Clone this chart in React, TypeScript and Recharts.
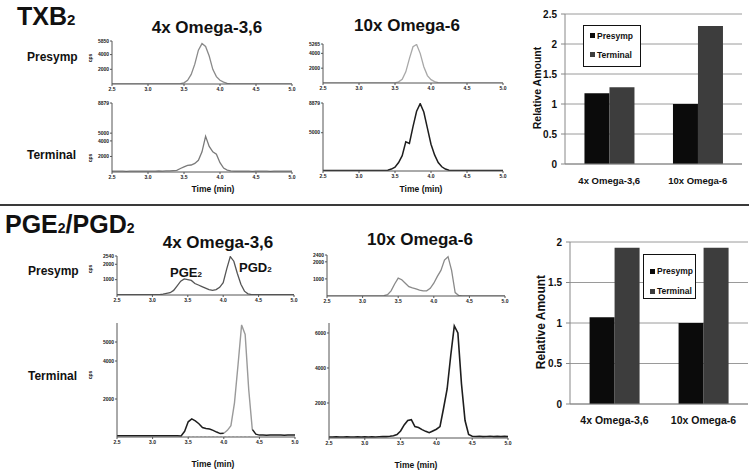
import React from "react";
import { LineChart, Line, XAxis, YAxis, BarChart, Bar, CartesianGrid, Legend } from "recharts";

// retention time grid (min)
const minutes = [
  2.5, 2.55, 2.6, 2.65, 2.7, 2.75, 2.8, 2.85, 2.9, 2.95,
  3.0, 3.05, 3.1, 3.15, 3.2, 3.25, 3.3, 3.35, 3.4, 3.45,
  3.5, 3.55, 3.6, 3.65, 3.7, 3.75, 3.8, 3.85, 3.9, 3.95,
  4.0, 4.05, 4.1, 4.15, 4.2, 4.25, 4.3, 4.35, 4.4, 4.45,
  4.5, 4.55, 4.6, 4.65, 4.7, 4.75, 4.8, 4.85, 4.9, 4.95,
  5.0,
];
const timeTicks = [2.5, 3.0, 3.5, 4.0, 4.5, 5.0];

// TXB2 traces (cps)
const txbOmega36Presymp = [
  0, 0, 0, 0, 0, 0, 0, 0, 0, 0,
  0, 0, 0, 0, 0, 0, 0, 0, 0, 50,
  150, 500, 1300, 2700, 4600, 5500, 5100, 3800, 2000, 1000,
  500, 250, 80, 0, 0, 0, 0, 0, 0, 0,
  0, 0, 0, 0, 0, 0, 0, 0, 0, 0,
  0,
];
const txbOmega36Terminal = [
  100, 100, 120, 100, 90, 110, 100, 120, 100, 110,
  100, 120, 100, 130, 110, 150, 150, 180, 200, 450,
  650, 850, 900, 1100, 1500, 2600, 4600, 3300, 2600, 2300,
  1200, 500, 250, 150, 120, 100, 110, 100, 100, 90,
  100, 110, 100, 100, 90, 100, 100, 110, 100, 100,
  100,
];
const txbOmega6Presymp = [
  0, 0, 0, 0, 0, 0, 0, 0, 0, 0,
  0, 0, 0, 0, 0, 0, 0, 0, 0, 0,
  30, 150, 500, 1500, 3300, 4900, 5200, 4000, 2200, 1000,
  450, 200, 60, 0, 0, 0, 0, 0, 0, 0,
  0, 0, 0, 0, 0, 0, 0, 0, 0, 0,
  0,
];
const txbOmega6Terminal = [
  60, 60, 70, 60, 60, 70, 60, 60, 70, 60,
  60, 70, 60, 70, 60, 70, 80, 80, 100, 250,
  500, 1100, 2000, 3800, 3600, 5800, 7800, 8800, 7700, 5600,
  3500, 2100, 1100, 550, 250, 100, 60, 60, 60, 60,
  60, 60, 60, 60, 60, 60, 60, 60, 60, 60,
  60,
];

// PGE2 / PGD2 traces (cps)
const pgOmega36Presymp = [
  20, 20, 20, 20, 20, 20, 20, 20, 20, 20,
  20, 20, 20, 50, 100, 150, 300, 600, 900, 1050,
  1000, 950, 750, 650, 550, 450, 350, 300, 350, 500,
  800, 1700, 2500, 2200, 1400, 700, 250, 80, 30, 20,
  20, 20, 20, 20, 20, 20, 20, 20, 20, 20,
  20,
];
const pgOmega36Terminal = [
  60, 60, 60, 70, 60, 60, 70, 60, 60, 70,
  60, 60, 70, 60, 60, 70, 60, 60, 50, 300,
  800, 950, 850, 700, 500, 450, 420, 350, 260, 180,
  200, null, null, null, null, null, null, null, 400, 150,
  100, 100, 90, 100, 100, 110, 100, 90, 100, 100,
  100,
];
const pgOmega36TerminalPGD2 = [
  null, null, null, null, null, null, null, null, null, null,
  null, null, null, null, null, null, null, null, null, null,
  null, null, null, null, null, null, null, null, null, null,
  200, 350, 600, 1800, 3800, 5900, 5400, 2500, 400, null,
  null, null, null, null, null, null, null, null, null, null,
  null,
];
const pgOmega36TerminalOther = [
  null, null, null, null, null, null, null, null, null, null,
  null, null, null, null, null, null, null, null, null, null,
  0, 0, 0, 0, 0, 0, 0, 0, 0, 0,
  0, 0, 0, 0, 0, 0, 0, 0, 0, null,
  null, null, null, null, null, null, null, null, null, null,
  null,
];
const pgOmega6Presymp = [
  10, 10, 10, 10, 10, 10, 10, 10, 10, 10,
  10, 10, 10, 10, 10, 10, 20, 80, 300, 700,
  1050, 950, 750, 550, 480, 420, 350, 300, 300, 450,
  750, 1150, 1500, 2100, 2300, 1500, 200, 30, 10, 10,
  10, 10, 10, 10, 10, 10, 10, 10, 10, 10,
  10,
];
const pgOmega6Terminal = [
  60, 60, 70, 60, 60, 70, 60, 60, 70, 60,
  70, 60, 70, 60, 70, 80, 80, 100, 130, 200,
  400, 750, 1000, 1050, 650, 600, 480, 380, 300, 400,
  500, 650, 1700, 2800, 4700, 6400, 6000, 3100, 1000, 200,
  100, 90, 100, 80, 90, 100, 80, 90, 80, 90,
  80,
];

// relative amounts (bar panels)
const barGroups = ["4x Omega-3,6", "10x Omega-6"];
const txbPresymp = [1.18, 1.0];
const txbTerminal = [1.28, 2.3];
const pgPresymp = [1.07, 1.0];
const pgTerminal = [1.93, 1.93];
const txbAmountTicks = [0, 0.5, 1, 1.5, 2, 2.5];
const pgAmountTicks = [0, 0.5, 1, 1.5, 2];

const SANS = "'Liberation Sans', Arial, sans-serif";

type Trace = { values: (number | null)[]; color: string; dash?: string; width?: number };

function Chromatogram({ x0, x1, yTop, yBase, yMax, yTicks, traces }: any) {
  const YW = 24, XH = 12, MT = 3, MR = 4;
  const data = minutes.map((t, i) => {
    const row: any = { t };
    traces.forEach((tr: Trace, k: number) => (row["s" + k] = tr.values[i]));
    return row;
  });
  const tick = { fontSize: 5, fill: "#222", fontWeight: 700, fontFamily: SANS };
  return (
    <div style={{ position: "absolute", left: x0 - YW, top: yTop - MT }}>
      <LineChart
        width={x1 - x0 + YW + MR}
        height={yBase - yTop + MT + XH}
        data={data}
        margin={{ top: MT, right: MR, left: 0, bottom: 0 }}
      >
        <XAxis
          dataKey="t"
          type="number"
          domain={[2.5, 5]}
          ticks={timeTicks}
          interval={0}
          tickFormatter={(v) => Number(v).toFixed(1)}
          height={XH}
          tick={tick}
          tickSize={2}
          tickMargin={1}
          stroke="#555"
        />
        <YAxis
          type="number"
          domain={[0, yMax]}
          ticks={yTicks}
          interval={0}
          allowDataOverflow
          width={YW}
          tick={tick}
          tickSize={2}
          tickMargin={1}
          stroke="#555"
        />
        {traces.map((tr: Trace, k: number) => (
          <Line
            key={k}
            dataKey={"s" + k}
            type="linear"
            stroke={tr.color}
            strokeWidth={tr.width ?? 1.3}
            strokeDasharray={tr.dash}
            dot={false}
            isAnimationActive={false}
          />
        ))}
      </LineChart>
    </div>
  );
}

const LegendBox = ({ payload, w, h, padTop, rowH }: any) => (
  <div
    style={{
      width: w,
      height: h,
      boxSizing: "border-box",
      border: "1px solid #111",
      background: "#fff",
      padding: `${padTop}px 0 0 6px`,
      fontFamily: SANS,
      fontWeight: 700,
      fontSize: 8.5,
      color: "#111",
    }}
  >
    {(payload || []).map((p: any) => (
      <div key={p.value} style={{ display: "flex", alignItems: "center", height: rowH }}>
        <span style={{ display: "inline-block", width: 5, height: 5, background: p.color, marginRight: 2 }} />
        {p.value}
      </div>
    ))}
  </div>
);

function RelativeBars({ plotLeft, plotTop, plotRight, plotBottom, max, ticks, presymp, terminal, legend, catSize }: any) {
  const YW = 30, MT = 5, MR = 1, XH = 28;
  const data = barGroups.map((g, i) => ({ group: g, Presymp: presymp[i], Terminal: terminal[i] }));
  const left = plotLeft - YW;
  const top = plotTop - MT;
  return (
    <div style={{ position: "absolute", left, top }}>
      <BarChart
        width={plotRight - plotLeft + YW + MR}
        height={plotBottom - plotTop + MT + XH}
        data={data}
        margin={{ top: MT, right: MR, left: 0, bottom: 0 }}
        barCategoryGap="22%"
        barGap={0}
      >
        <CartesianGrid vertical={false} stroke="#9a9a9a" />
        <XAxis
          dataKey="group"
          height={XH}
          tickLine={false}
          tickSize={0}
          tickMargin={13}
          stroke="#888"
          tick={{ fontSize: catSize, fill: "#111", fontWeight: 700, fontFamily: SANS }}
        />
        <YAxis
          domain={[0, max]}
          ticks={ticks}
          interval={0}
          width={YW}
          tickSize={4}
          tickMargin={4}
          stroke="#888"
          tick={{ fontSize: 10, fill: "#111", fontWeight: 700, fontFamily: SANS }}
        />
        <Legend
          layout="vertical"
          align="center"
          verticalAlign="middle"
          wrapperStyle={{ left: legend.x - left, top: legend.y - top, width: legend.w, height: legend.h }}
          content={(props: any) => (
            <LegendBox {...props} w={legend.w} h={legend.h} padTop={legend.padTop} rowH={legend.rowH} />
          )}
        />
        <Bar dataKey="Presymp" fill="#0b0b0b" isAnimationActive={false} />
        <Bar dataKey="Terminal" fill="#3d3d3d" isAnimationActive={false} />
      </BarChart>
    </div>
  );
}

const Txt = ({ x, y, size, center, children, family = SANS }: any) => (
  <div
    style={{
      position: "absolute",
      left: x,
      top: y,
      fontSize: size,
      lineHeight: 1,
      fontWeight: 700,
      fontFamily: family,
      whiteSpace: "nowrap",
      color: "#111",
      transform: center ? "translateX(-50%)" : undefined,
    }}
  >
    {children}
  </div>
);

const VTxt = ({ cx, cy, size, children, family = SANS }: any) => (
  <div
    style={{
      position: "absolute",
      left: cx,
      top: cy,
      fontSize: size,
      lineHeight: 1,
      fontWeight: 700,
      fontFamily: family,
      whiteSpace: "nowrap",
      color: "#111",
      transform: "translate(-50%, -50%) rotate(-90deg)",
    }}
  >
    {children}
  </div>
);

export default function App() {
  return (
    <div
      style={{
        position: "absolute",
        left: 0,
        top: 0,
        width: 749,
        height: 472,
        background: "#fff",
        overflow: "hidden",
        fontFamily: SANS,
      }}
    >
      {/* TXB2 panel */}
      <Txt x={17} y={4} size={25}>
        TXB<span style={{ fontSize: 15 }}>2</span>
      </Txt>
      <Txt x={207} y={18.5} size={17} center>4x Omega-3,6</Txt>
      <Txt x={407} y={16.5} size={17} center>10x Omega-6</Txt>
      <Txt x={27} y={51} size={12}>Presymp</Txt>
      <Txt x={27} y={149} size={12}>Terminal</Txt>
      <VTxt cx={90} cy={58} size={5}>cps</VTxt>
      <VTxt cx={90} cy={158} size={5}>cps</VTxt>

      <Chromatogram x0={112} x1={292} yTop={41} yBase={84} yMax={5850} yTicks={[2000, 4000, 5850]}
        traces={[{ values: txbOmega36Presymp, color: "#8a8a8a" }]} />
      <Chromatogram x0={112} x1={292} yTop={103} yBase={172} yMax={8879} yTicks={[2000, 4000, 5000, 8879]}
        traces={[{ values: txbOmega36Terminal, color: "#7a7a7a" }]} />
      <Chromatogram x0={323} x1={503} yTop={44} yBase={83} yMax={5265} yTicks={[2000, 4000, 5265]}
        traces={[{ values: txbOmega6Presymp, color: "#a8a8a8" }]} />
      <Chromatogram x0={323} x1={503} yTop={103} yBase={171} yMax={8879} yTicks={[5000, 8879]}
        traces={[{ values: txbOmega6Terminal, color: "#1e1e1e", width: 1.5 }]} />
      <Txt x={213} y={185} size={8.5} center>Time (min)</Txt>
      <Txt x={421} y={185} size={8.5} center>Time (min)</Txt>

      <RelativeBars plotLeft={565} plotTop={14} plotRight={742} plotBottom={164} max={2.5}
        ticks={txbAmountTicks} presymp={txbPresymp} terminal={txbTerminal} catSize={9.5}
        legend={{ x: 583, y: 25, w: 58, h: 42, padTop: 0, rowH: 19 }} />
      <VTxt cx={537} cy={88} size={10.5}>Relative Amount</VTxt>

      <div style={{ position: "absolute", left: 0, top: 204, width: 749, height: 2, background: "#3a3a3a" }} />

      {/* PGE2 / PGD2 panel */}
      <Txt x={5} y={212} size={25}>
        PGE<span style={{ fontSize: 14 }}>2</span>/PGD<span style={{ fontSize: 14 }}>2</span>
      </Txt>
      <Txt x={218} y={233.5} size={17} center>4x Omega-3,6</Txt>
      <Txt x={420} y={230.5} size={17} center>10x Omega-6</Txt>
      <Txt x={28} y={265} size={12}>Presymp</Txt>
      <Txt x={28} y={370} size={12}>Terminal</Txt>
      <VTxt cx={90} cy={269} size={5}>cps</VTxt>
      <VTxt cx={90} cy={375} size={5}>cps</VTxt>
      <Txt x={170} y={266} size={13}>
        PGE<span style={{ fontSize: 8 }}>2</span>
      </Txt>
      <Txt x={239} y={261} size={13}>
        PGD<span style={{ fontSize: 8 }}>2</span>
      </Txt>

      <Chromatogram x0={117} x1={294} yTop={256} yBase={295} yMax={2540} yTicks={[1000, 2000, 2540]}
        traces={[{ values: pgOmega36Presymp, color: "#555" }]} />
      <Chromatogram x0={117} x1={295} yTop={323} yBase={437} yMax={6000} yTicks={[2000, 4000, 5000]}
        traces={[
          { values: pgOmega36TerminalOther, color: "#bbb", dash: "2 2", width: 1 },
          { values: pgOmega36Terminal, color: "#1e1e1e", width: 1.5 },
          { values: pgOmega36TerminalPGD2, color: "#9a9a9a", width: 1.4 },
        ]} />
      <Chromatogram x0={327} x1={505} yTop={255} yBase={296} yMax={2400} yTicks={[1000, 2000, 2400]}
        traces={[{ values: pgOmega6Presymp, color: "#8a8a8a" }]} />
      <Chromatogram x0={329} x1={508} yTop={323} yBase={438} yMax={6570} yTicks={[2000, 4000, 6000]}
        traces={[{ values: pgOmega6Terminal, color: "#1e1e1e", width: 1.6 }]} />
      <Txt x={213} y={460} size={8.5} center>Time (min)</Txt>
      <Txt x={416} y={461} size={8.5} center>Time (min)</Txt>

      <RelativeBars plotLeft={570} plotTop={242} plotRight={748} plotBottom={404} max={2}
        ticks={pgAmountTicks} presymp={pgPresymp} terminal={pgTerminal} catSize={10.5}
        legend={{ x: 643, y: 254, w: 53, h: 45, padTop: 6, rowH: 20 }} />
      <VTxt cx={541} cy={322} size={12}>Relative Amount</VTxt>
    </div>
  );
}
